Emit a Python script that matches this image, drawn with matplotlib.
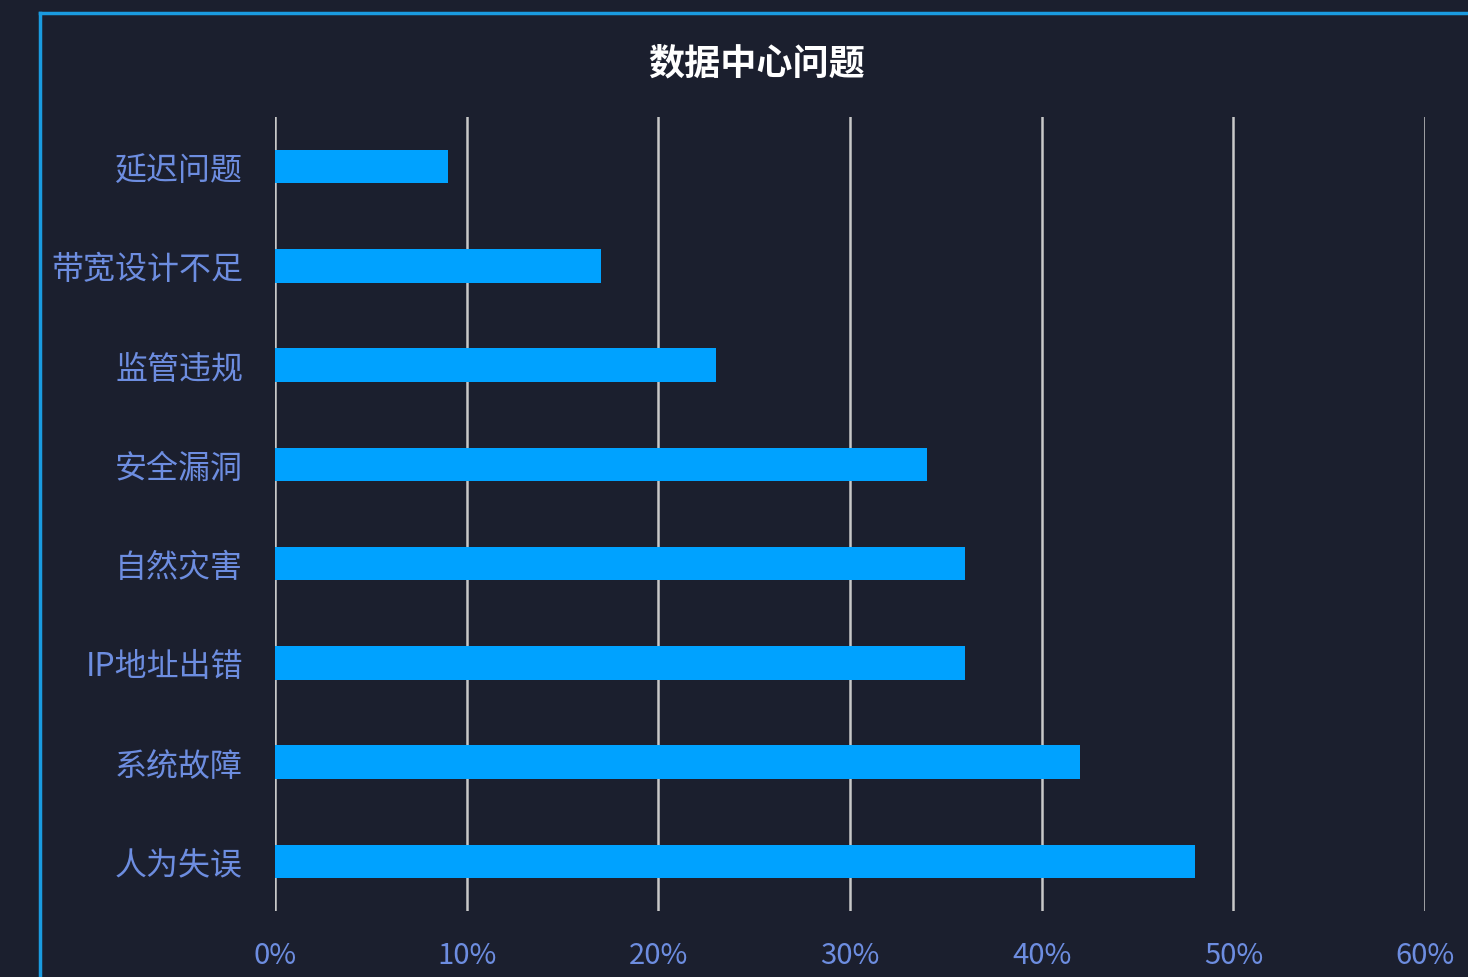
import matplotlib.pyplot as plt
from matplotlib.ticker import FuncFormatter
from matplotlib.lines import Line2D

plt.rcParams['font.family'] = ['Noto Sans CJK SC', 'DejaVu Sans']

# data (top to bottom as shown)
categories = ['延迟问题', '带宽设计不足', '监管违规', '安全漏洞', '自然灾害', 'IP地址出错', '系统故障', '人为失误']
values = [9, 17, 23, 34, 36, 36, 42, 48]
xticks = [0, 10, 20, 30, 40, 50, 60]

bg = '#1b1f2e'
bar_color = '#00a2ff'
label_color = '#6d8de0'
grid_color = '#c8c8c8'

fig = plt.figure(figsize=(14.68, 9.78), dpi=100, facecolor=bg)
W, H = 1468, 978
ax = fig.add_axes([275 / W, 1 - 912 / H, 1150 / W, 794 / H])
ax.set_facecolor(bg)

y = list(range(len(categories)))
ax.barh(y, values, height=0.34, color=bar_color, zorder=3)
ax.set_ylim(len(categories) - 0.5, -0.5)
ax.set_xlim(0, 60)
ax.set_yticks(y)
ax.set_yticklabels(categories)
ax.set_xticks(xticks)
ax.xaxis.set_major_formatter(FuncFormatter(lambda v, p: f'{v:.0f}%'))

for x in xticks:
    ax.axvline(x, color=grid_color, lw=1.8, zorder=1)

for s in ax.spines.values():
    s.set_visible(False)
ax.tick_params(axis='both', length=0, colors=label_color, labelsize=21)
ax.tick_params(axis='y', pad=23, labelsize=23)
ax.tick_params(axis='x', pad=21)

# title
fig.text(757 / W, 1 - 64 / H, '数据中心问题', color='white', fontsize=26,
         fontweight='bold', ha='center', va='center')

# container border (left and top edges)
border = '#1a9be0'
fig.add_artist(Line2D([40 / W, 40 / W], [0, 1 - 14 / H], color=border, lw=2.5,
                      transform=fig.transFigure))
fig.add_artist(Line2D([40 / W, 1], [1 - 14 / H, 1 - 14 / H], color=border, lw=2.5,
                      transform=fig.transFigure))

fig.savefig('out.png', dpi=100, facecolor=bg)
